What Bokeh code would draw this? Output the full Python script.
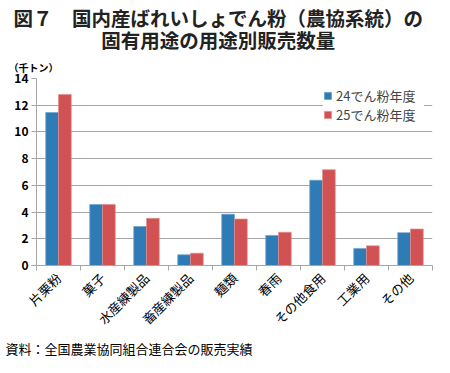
from bokeh.plotting import figure
from bokeh.models import (FixedTicker, Legend, LegendItem, ColumnDataSource, Range1d, Title)
from bokeh.embed import file_html
from bokeh.resources import INLINE

categories = ["片栗粉", "菓子", "水産練製品", "畜産練製品", "麺類", "春雨", "その他食用", "工業用", "その他"]
series_names = ["24でん粉年度", "25でん粉年度"]
values_24 = [11.45, 4.57, 2.92, 0.80, 3.84, 2.25, 6.38, 1.28, 2.46]
values_25 = [12.80, 4.57, 3.53, 0.92, 3.48, 2.49, 7.17, 1.47, 2.73]
y_ticks = [0, 2, 4, 6, 8, 10, 12, 14]
title_lines = ["図７　国内産ばれいしょでん粉（農協系統）の", "固有用途の用途別販売数量"]
unit_text = "（千トン）"
source_text = "資料：全国農業協同組合連合会の販売実績"

FONT = "Noto Sans CJK JP"
BLUE = "#2e7bb6"
RED = "#d05252"
GRID = "#a6a6a6"

n = len(categories)
centers = [i + 0.5 for i in range(n)]
bw = 0.29

src = ColumnDataSource(dict(
    x24=[c - bw / 2 for c in centers],
    x25=[c + bw / 2 for c in centers],
    v24=values_24,
    v25=values_25,
))

p = figure(width=434, height=357, output_backend="svg", toolbar_location=None,
           x_range=Range1d(0, n), y_range=Range1d(0, 14),
           min_border_left=36, min_border_right=2, min_border_top=0, min_border_bottom=0)
p.outline_line_color = None
p.background_fill_color = "white"
p.border_fill_color = "white"

r24 = p.vbar(x="x24", top="v24", width=bw, source=src, fill_color=BLUE,
             line_color="#6fa3cf", line_width=0.7)
r25 = p.vbar(x="x25", top="v25", width=bw, source=src, fill_color=RED,
             line_color="#e38c8c", line_width=0.7)

xa = p.xaxis[0]
xa.ticker = FixedTicker(ticks=centers, minor_ticks=list(range(n + 1)))
xa.major_label_overrides = {c: lab for c, lab in zip(centers, categories)}
xa.major_tick_line_color = None
xa.minor_tick_line_color = GRID
xa.minor_tick_out = 5
xa.minor_tick_in = 0
xa.axis_line_color = GRID
xa.major_label_orientation = 0.785398
xa.major_label_text_font = FONT
xa.major_label_text_font_size = "13px"
xa.major_label_text_color = "#000000"
xa.major_label_standoff = 4

ya = p.yaxis[0]
ya.ticker = FixedTicker(ticks=y_ticks)
ya.minor_tick_line_color = None
ya.major_tick_line_color = GRID
ya.major_tick_out = 5
ya.major_tick_in = 0
ya.axis_line_color = GRID
ya.major_label_text_font = FONT
ya.major_label_text_font_size = "12px"
ya.major_label_text_font_style = "bold"
ya.major_label_text_color = "#000000"
ya.major_label_standoff = 3

p.xgrid.grid_line_color = None
p.ygrid.grid_line_color = GRID
p.ygrid.grid_line_width = 1

legend = Legend(items=[LegendItem(label=series_names[0], renderers=[r24]),
                       LegendItem(label=series_names[1], renderers=[r25])],
                location="top_right", border_line_color=None,
                background_fill_color="white", background_fill_alpha=1.0,
                label_text_font=FONT, label_text_font_size="13px",
                glyph_width=9, glyph_height=9, label_height=14, label_width=88,
                spacing=0, padding=4, margin=8, label_standoff=4)
p.add_layout(legend)

# texts outside the plot area (first added "above" is closest to the frame)
p.add_layout(Title(text=unit_text, align="left", offset=-28, standoff=7,
                   text_font=FONT, text_font_size="10px", text_font_style="bold",
                   text_line_height=0.8, text_color="#000000"), "above")
title_text = title_lines[0] + "\n" + "\u3000\u3000\u3000\u3000\u2002" + title_lines[1]
p.add_layout(Title(text=title_text, align="left", offset=-23, standoff=0,
                   text_font=FONT, text_font_size="19.5px", text_font_style="bold",
                   text_line_height=0.78, text_color="#222222"), "above")
p.add_layout(Title(text=source_text, align="left", offset=-31, standoff=-1,
                   text_font=FONT, text_font_size="13px", text_font_style="normal",
                   text_color="#000000"), "below")

open("out.html", "w").write(file_html(p, INLINE))
